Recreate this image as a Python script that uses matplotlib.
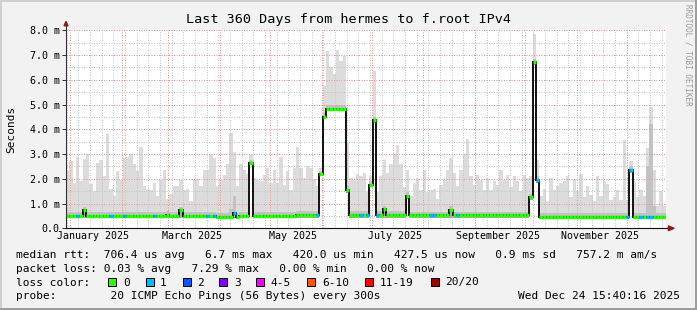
import datetime as dt
import matplotlib
matplotlib.use("Agg")
import matplotlib.pyplot as plt
import matplotlib.dates as mdates
from matplotlib.ticker import MultipleLocator
from matplotlib.patches import Rectangle
from matplotlib.lines import Line2D

# ---- data (2-day bins, milliseconds) ----
t_start = dt.datetime(2024, 12, 29, 15, 40, 16)
t_end = dt.datetime(2025, 12, 24, 15, 40, 16)
bin_days = 2

# median rtt
rtt_med = [
    .49, .49, .49, .49, .49, .75, .49, .49, .49, .49,
    .49, .49, .49, .49, .49, .49, .49, .49, .49, .49,
    .49, .49, .49, .49, .49, .49, .49, .49, .49, .49,
    .55, .49, .49, .49, .72, .49, .49, .49, .49, .49,
    .49, .49, .49, .49, .49, .45, .45, .45, .45, .45,
    .60, .45, .49, .49, .49, 2.65, .49, .49, .49, .49,
    .49, .49, .49, .49, .49, .49, .49, .49, .49, .55,
    .55, .55, .55, .55, .55, .55, 2.20, 4.50, 4.84, 4.84,
    4.84, 4.84, 4.84, 4.84, 1.55, .55, .55, .55, .55, .55,
    .55, 1.76, 4.36, .55, .55, .76, .53, .53, .53, .53,
    .53, .53, 1.30, .52, .52, .52, .52, .52, .52, .52,
    .52, .52, .52, .52, .52, .75, .52, .52, .52, .52,
    .52, .52, .52, .52, .52, .52, .52, .52, .52, .52,
    .52, .52, .52, .52, .52, .52, .52, .52, .52, 1.25,
    6.70, 1.95, .46, .46, .46, .46, .46, .46, .46, .46,
    .46, .46, .46, .46, .46, .46, .46, .46, .46, .46,
    .46, .46, .46, .46, .46, .46, .46, .46, .46, 2.36,
    .46, .46, .46, .46, .46, .46, .46, .46, .46, .46,
]

# highest ping (top of the light smoke)
rtt_max = [
    2.3, 2.7, 1.85, 2.9, 1.9, 2.8, 3.0, 1.8, 1.5, 2.65,
    2.75, 2.1, 3.8, 1.6, 1.3, 2.3, 1.95, 2.85, 2.9, 3.0,
    2.6, 2.3, 3.3, 1.7, 1.6, 1.55, 1.85, 1.3, 1.95, 2.35,
    1.2, 1.4, 1.7, 1.7, 1.95, 1.55, 1.6, 1.1, 1.95, 2.0,
    1.7, 2.35, 2.35, 3.0, 2.85, 1.7, 1.95, 2.15, 2.6, 3.85,
    3.1, 1.7, 2.6, 2.35, 2.2, 2.95, 2.05, 1.95, 1.9, 2.15,
    2.45, 1.85, 2.35, 1.85, 2.9, 1.75, 2.3, 1.55, 2.45, 3.3,
    2.45, 2.05, 2.5, 2.45, 2.0, 1.7, 2.45, 5.75, 7.15, 6.5,
    6.25, 7.2, 6.75, 6.95, 3.45, 2.05, 1.95, 2.2, 2.1, 2.25,
    1.45, 2.1, 6.35, 1.45, 2.1, 2.75, 2.25, 2.6, 3.0, 3.35,
    2.6, 1.65, 2.35, 1.3, 1.85, 2.05, 1.55, 2.35, 1.45, 1.55,
    1.6, 1.2, 1.75, 1.95, 2.35, 2.85, 2.25, 1.7, 2.35, 3.0,
    3.6, 2.1, 1.75, 2.15, 1.95, 1.55, 2.05, 1.55, 1.9, 1.75,
    2.35, 1.95, 2.15, 1.65, 2.1, 1.9, 1.5, 2.15, 2.05, 2.1,
    7.85, 2.75, 1.3, 1.6, 1.1, 2.05, 1.55, 1.7, 1.85, 1.9,
    2.1, 1.25, 2.0, 1.5, 2.2, 1.25, 1.7, 1.35, 1.1, 2.1,
    1.3, 1.9, 1.8, 1.15, 1.25, 1.55, 1.15, 3.55, 1.15, 2.7,
    1.9, 1.25, 1.55, 1.3, 3.25, 4.9, 2.35, 0.9, 1.5, 0.9,
]

# lowest ping (bottom of the smoke)
rtt_min = [
    .40, .40, .40, .40, .40, .40, .40, .40, .40, .40,
    .40, .40, .40, .40, .40, .40, .40, .40, .40, .40,
    .40, .40, .40, .40, .40, .40, .40, .40, .40, .40,
    .40, .40, .40, .40, .40, .40, .40, .40, .40, .40,
    .40, .40, .40, .40, .40, .38, .38, .38, .38, .38,
    .40, .38, .40, .40, .40, 2.55, .40, .40, .40, .40,
    .40, .40, .40, .40, .40, .40, .40, .40, .40, .43,
    .43, .43, .43, .43, .43, .43, 2.10, 4.40, 4.72, 4.72,
    4.72, 4.72, 4.72, 4.72, 1.42, .42, .42, .42, .42, .42,
    .42, 1.65, 4.25, .42, .42, .42, .42, .42, .42, .42,
    .42, .42, 1.20, .41, .41, .41, .41, .41, .41, .41,
    .41, .41, .41, .41, .41, .41, .41, .41, .41, .41,
    .41, .41, .41, .41, .41, .41, .41, .41, .41, .41,
    .41, .41, .41, .41, .41, .41, .41, .41, .41, 1.15,
    6.60, 1.85, .37, .37, .37, .37, .37, .37, .37, .37,
    .37, .37, .37, .37, .37, .37, .37, .37, .37, .37,
    .37, .37, .37, .37, .37, .37, .37, .37, .37, 2.25,
    .37, .37, .37, .37, .37, .37, .37, .37, .37, .37,
]

# upper edge of the dense (darker) smoke
rtt_uq = [
    .64, .64, .64, .64, .64, .88, .64, .64, .64, .64,
    .64, .64, .64, .64, .64, .64, .64, .64, .64, .64,
    .64, .64, .64, .64, .64, .64, .64, .64, .64, .64,
    .68, .64, .64, .64, .85, .64, .64, .64, .64, .64,
    .64, .64, .64, .64, .64, .60, .60, .60, .60, .80,
    1.30, .62, .64, .64, .64, 2.75, .64, .64, .64, .64,
    .64, .64, .64, .64, .64, .64, .64, .64, .64, .70,
    .70, .70, .70, .70, .70, .70, 2.32, 4.65, 5.00, 5.00,
    5.00, 5.00, 5.00, 5.00, 1.70, .70, .70, .70, .70, .70,
    .70, 1.90, 4.50, .70, .70, .90, .68, .68, .68, .68,
    .68, .68, 1.45, .67, .67, .67, .67, .67, .67, .67,
    .67, .67, .67, .67, .67, .90, .67, .67, .67, .67,
    .67, .67, .67, .67, .67, .67, .67, .67, .67, .67,
    .67, .67, .67, .67, .67, .67, .67, .67, .67, 1.40,
    6.85, 2.10, .61, .61, .61, .61, .61, .61, .61, .61,
    .61, .61, .61, .61, .61, .61, .61, .61, .61, .61,
    .61, .61, .61, .61, .61, .61, .61, .61, .61, 2.50,
    .61, .61, .61, .61, 2.50, 4.20, .90, .61, .61, .61,
]

# lost pings (of 20) per bin
loss = [
    0, 0, 0, 1, 0, 0, 0, 0, 0, 0,
    0, 0, 0, 1, 0, 0, 0, 1, 0, 0,
    0, 0, 0, 0, 0, 0, 1, 0, 0, 0,
    0, 0, 0, 0, 0, 0, 0, 0, 0, 0,
    0, 0, 1, 0, 1, 0, 0, 0, 0, 0,
    1, 0, 0, 0, 0, 0, 0, 0, 0, 0,
    0, 0, 0, 0, 0, 0, 0, 0, 0, 0,
    0, 0, 0, 0, 0, 1, 0, 0, 0, 0,
    0, 0, 0, 0, 0, 0, 0, 0, 1, 0,
    1, 0, 0, 1, 0, 0, 0, 0, 0, 0,
    0, 0, 0, 0, 0, 0, 0, 0, 0, 1,
    1, 0, 0, 0, 0, 0, 0, 1, 0, 0,
    0, 0, 0, 0, 0, 0, 0, 0, 0, 0,
    0, 0, 0, 0, 0, 0, 0, 0, 0, 0,
    0, 1, 0, 0, 0, 0, 0, 0, 0, 0,
    0, 0, 0, 0, 0, 0, 0, 0, 0, 0,
    0, 0, 0, 0, 0, 0, 0, 0, 1, 1,
    0, 0, 1, 0, 1, 1, 0, 0, 0, 0,
]

loss_labels = ['0', '1', '2', '3', '4-5', '6-10', '11-19', '20/20']
loss_limits = [0, 1, 2, 3, 5, 10, 19, 20]
loss_colors = ['#26ff00', '#00b8ff', '#0059ff', '#7e00ff', '#ff00ff', '#ff5500', '#ff0000', '#a10000']

title = 'Last 360 Days from hermes to f.root IPv4'
legend_lines = [
    'median rtt:  706.4 us avg   6.7 ms max   420.0 us min   427.5 us now   0.9 ms sd   757.2 m am/s',
    'packet loss: 0.03 % avg   7.29 % max   0.00 % min   0.00 % now',
]
probe_text = 'probe:        20 ICMP Echo Pings (56 Bytes) every 300s'
stamp_text = 'Wed Dec 24 15:40:16 2025'

# ---- layout ----
W, H = 697, 310
MONO = 'DejaVu Sans Mono'
plt.rcParams['font.family'] = [MONO, 'DejaVu Sans']
GRID = '#c4c4c4'
MGRID = '#f09494'
DOT = (0, (1, 1.5))


def fx(px):
    return px / W


def fy(py):
    return 1 - py / H


def color_for(n):
    for lim, c in zip(loss_limits, loss_colors):
        if n <= lim:
            return c
    return loss_colors[-1]


fig = plt.figure(figsize=(W / 100, H / 100), dpi=100, facecolor='#f2f2f2')
ax = fig.add_axes([fx(66), fy(228.3), 600 / W, 198 / H])
ax.set_facecolor('white')

edges = mdates.date2num([t_start + dt.timedelta(days=bin_days * i) for i in range(len(rtt_med) + 1)])

# smoke
ax.stairs(rtt_max, edges, baseline=rtt_min, fill=True, color='#dcdcdc', lw=0, zorder=1)
ax.stairs(rtt_uq, edges, baseline=rtt_min, fill=True, color='#c2c2c2', lw=0, zorder=1.1)
ax.stairs(rtt_med, edges, baseline=rtt_min, fill=True, color='#a4a4a4', lw=0, zorder=1.2)

# median
ax.stairs(rtt_med, edges, baseline=None, color='#111111', lw=1.4, zorder=3)
ax.hlines(rtt_med, edges[:-1], edges[1:], colors=[color_for(n) for n in loss], lw=2.5, zorder=4)

ax.set_xlim(mdates.date2num(t_start), mdates.date2num(t_end))
ax.set_ylim(0, 8)

# grid (dotted, drawn over the smoke)
ax.set_axisbelow(False)
ax.yaxis.set_major_locator(MultipleLocator(1))
ax.yaxis.set_minor_locator(MultipleLocator(0.5))
ax.set_yticks(range(9), labels=['0.0'] + ['%.1f m' % v for v in range(1, 9)])
ax.yaxis.grid(True, which='minor', color=GRID, lw=0.72, ls=DOT)
ax.yaxis.grid(True, which='major', color=MGRID, lw=0.72, ls=DOT)

d = dt.datetime(2024, 12, 30)
while d < t_end:
    ax.axvline(mdates.date2num(d), color=GRID, lw=0.72, ls=DOT, zorder=2.4)
    d += dt.timedelta(days=7)
for m in range(1, 13):
    ax.axvline(mdates.date2num(dt.datetime(2025, m, 1)), color=MGRID, lw=0.72, ls=DOT, zorder=2.5)

ax.xaxis.set_major_locator(mdates.MonthLocator(bymonth=[1, 3, 5, 7, 9, 11], bymonthday=15))
ax.xaxis.set_major_formatter(mdates.DateFormatter('%B %Y'))
ax.tick_params(axis='x', length=0, pad=2.2, labelsize=7.2)
ax.tick_params(axis='y', which='major', direction='out', length=3, width=0.72, color='#333333',
               pad=1.5, labelsize=7.2)
ax.tick_params(axis='y', which='minor', length=0)

for s in ax.spines.values():
    s.set_visible(False)

# axes with arrows
ax.plot([0, 0], [0, 1.03], transform=ax.transAxes, clip_on=False, color='#333333', lw=0.8, zorder=6)
ax.plot([0, 1.008], [0, 0], transform=ax.transAxes, clip_on=False, color='#111111', lw=0.8, zorder=6)
ax.fill([-3.3e-3, 3.3e-3, 0], [1.023, 1.023, 1.045], transform=ax.transAxes, clip_on=False,
        color='#8c1c1c', zorder=7)
ax.fill([1.004, 1.004, 1.0135], [-0.012, 0.012, 0], transform=ax.transAxes, clip_on=False,
        color='#8c1c1c', zorder=7)

# texts
fig.text(fx(348), fy(20), title, ha='center', va='center', fontsize=9.7)
fig.text(fx(11), fy(129), 'Seconds', rotation=90, ha='center', va='center', fontsize=8)
fig.text(fx(688), fy(4), 'RRDTOOL / TOBI OETIKER', rotation=270, ha='center', va='top',
         fontsize=5.5, color='#9a9a9a')

for line, y in zip(legend_lines, [258, 271.5]):
    fig.text(fx(16), fy(y), line, ha='left', va='baseline', fontsize=8)

fig.text(fx(16), fy(285.5), 'loss color:', ha='left', va='baseline', fontsize=8)
box_x = [108.3, 145.7, 182.7, 219.3, 256, 307.3, 365.3, 430.7]
for lab, c, x in zip(loss_labels, loss_colors, box_x):
    fig.add_artist(Rectangle((fx(x), fy(285.7)), 8 / W, 8 / H, transform=fig.transFigure,
                             facecolor=c, edgecolor='black', lw=0.72))
    fig.text(fx(x + 14.5), fy(285.5), lab, ha='left', va='baseline', fontsize=8)

fig.text(fx(16), fy(299), probe_text, ha='left', va='baseline', fontsize=8)
fig.text(fx(680), fy(299), stamp_text, ha='right', va='baseline', fontsize=8)

# frame shading
fig.add_artist(Line2D([0, 1], [fy(1), fy(1)], transform=fig.transFigure, color='#cfcfcf', lw=1.44))
fig.add_artist(Line2D([fx(1), fx(1)], [0, 1], transform=fig.transFigure, color='#cfcfcf', lw=1.44))
fig.add_artist(Line2D([fx(696), fx(696)], [0, 1], transform=fig.transFigure, color='#9e9e9e', lw=1.44))
fig.add_artist(Line2D([0, 1], [fy(309), fy(309)], transform=fig.transFigure, color='#9e9e9e', lw=1.44))

fig.savefig('out.png', dpi=100, facecolor=fig.get_facecolor())
